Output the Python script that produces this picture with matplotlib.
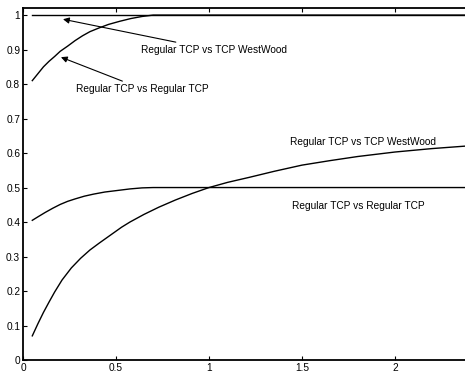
import matplotlib
matplotlib.use('Agg')
import matplotlib.pyplot as plt

# curve values
x_rr_top = [0.05, 0.08, 0.11, 0.14, 0.17, 0.20, 0.24, 0.28, 0.32, 0.36, 0.41, 0.46, 0.52, 0.58, 0.64, 0.70, 2.50]
y_rr_top = [0.81, 0.83, 0.85, 0.866, 0.88, 0.895, 0.91, 0.926, 0.94, 0.952, 0.963, 0.973, 0.982, 0.99, 0.996, 1.0, 1.0]

x_ww_top = [0.05, 2.50]
y_ww_top = [1.0, 1.0]

x_rr_low = [0.05, 0.08, 0.12, 0.16, 0.20, 0.24, 0.28, 0.33, 0.38, 0.44, 0.50, 0.575, 0.64, 0.70, 2.50]
y_rr_low = [0.405, 0.415, 0.428, 0.44, 0.451, 0.46, 0.467, 0.475, 0.481, 0.487, 0.491, 0.496, 0.499, 0.5, 0.5]

x_ww_low = [0.05, 0.08, 0.11, 0.14, 0.17, 0.21, 0.26, 0.31, 0.36, 0.41, 0.47, 0.53, 0.575, 0.65, 0.73,
            0.82, 0.91, 1.0, 1.1, 1.22, 1.35, 1.5, 1.65, 1.8, 2.0, 2.2, 2.4, 2.5]
y_ww_low = [0.07, 0.105, 0.138, 0.168, 0.197, 0.232, 0.267, 0.295, 0.319, 0.339, 0.362, 0.385, 0.4, 0.422, 0.443,
            0.464, 0.483, 0.5, 0.515, 0.53, 0.547, 0.565, 0.578, 0.59, 0.603, 0.613, 0.621, 0.625]

xticks = [0, 0.5, 1, 1.5, 2]
xticklabels = ['0', '0.5', '1', '1.5', '2']
yticks = [0, 0.1, 0.2, 0.3, 0.4, 0.5, 0.6, 0.7, 0.8, 0.9, 1]
yticklabels = ['0', '0.1', '0.2', '0.3', '0.4', '0.5', '0.6', '0.7', '0.8', '0.9', '1']

plt.rcParams['font.family'] = ['Liberation Sans', 'DejaVu Sans']
fs = 7.3

fig = plt.figure(figsize=(4.65, 3.73), dpi=100)
ax = fig.add_axes([23 / 465, 13 / 373, 465 / 465, 352.5 / 373])

for xs, ys in [(x_rr_top, y_rr_top), (x_ww_top, y_ww_top), (x_rr_low, y_rr_low), (x_ww_low, y_ww_low)]:
    ax.plot(xs, ys, color='black', lw=1.0)

ax.set_xlim(0, 2.5)
ax.set_ylim(0, 1.022)
ax.set_xticks(xticks)
ax.set_xticklabels(xticklabels)
ax.set_yticks(yticks)
ax.set_yticklabels(yticklabels)
ax.tick_params(direction='in', top=True, right=True, length=3, width=0.8, labelsize=fs, pad=2)
for s in ax.spines.values():
    s.set_linewidth(1.3)

arrow = dict(arrowstyle='-|>', color='black', lw=0.8, mutation_scale=9, shrinkA=0, shrinkB=0)
ax.annotate('Regular TCP vs TCP WestWood', xy=(0.215, 0.988), xytext=(0.635, 0.899),
            fontsize=fs, va='center', ha='left', arrowprops=arrow)
ax.annotate('Regular TCP vs Regular TCP', xy=(0.204, 0.878), xytext=(0.285, 0.786),
            fontsize=fs, va='center', ha='left', arrowprops=arrow)
ax.text(1.435, 0.632, 'Regular TCP vs TCP WestWood', fontsize=fs, va='center', ha='left')
ax.text(1.446, 0.446, 'Regular TCP vs Regular TCP', fontsize=fs, va='center', ha='left')

fig.savefig('out.png', dpi=100)
